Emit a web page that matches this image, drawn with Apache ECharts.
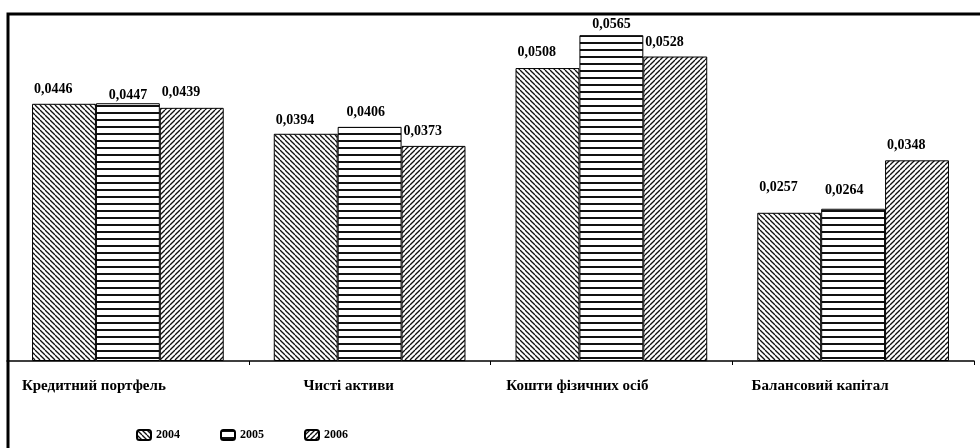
<!DOCTYPE html>
<html>
<head>
<meta charset="utf-8">
<script src="https://cdn.jsdelivr.net/npm/echarts@6/dist/echarts.min.js"></script>
<style>
html,body{margin:0;padding:0;background:#fff;}
#chart{width:980px;height:448px;}
</style>
</head>
<body>
<div id="chart"></div>
<script>
// ---- data ----
const categories = ['Кредитний портфель', 'Чисті активи', 'Кошти фізичних осіб', 'Балансовий капітал'];
const seriesNames = ['2004', '2005', '2006'];
const values2004 = [0.0446, 0.0394, 0.0508, 0.0257];
const values2005 = [0.0447, 0.0406, 0.0565, 0.0264];
const values2006 = [0.0439, 0.0373, 0.0528, 0.0348];

// ---- label placement (style, not data) ----
const catLabelShift = [34, 21, 34, 33];
const labelDy2004 = [-14, -13, -16, -25];
const labelDx2005 = [0, -4, 0, -9];
const labelDy2005 = [-8, -14, -11, -18];
const labelDy2006 = [-15, -15, -14, -15];

function makePattern(kind) {
  const c = document.createElement('canvas');
  const ctx = c.getContext('2d');
  if (kind === 'h') {
    c.width = 4; c.height = 7;
    ctx.fillStyle = '#fff'; ctx.fillRect(0, 0, 4, 7);
    ctx.fillStyle = '#111'; ctx.fillRect(0, 0, 4, 2);
  } else {
    const s = 5;
    c.width = s; c.height = s;
    ctx.fillStyle = '#fff'; ctx.fillRect(0, 0, s, s);
    ctx.strokeStyle = '#111'; ctx.lineWidth = 1.3;
    for (let k = -1; k <= 1; k++) {
      ctx.beginPath();
      if (kind === 'b') { ctx.moveTo(k * s, 0); ctx.lineTo(k * s + s, s); }
      else { ctx.moveTo(k * s, s); ctx.lineTo(k * s + s, 0); }
      ctx.stroke();
    }
  }
  return { image: c, repeat: 'repeat' };
}

const font = 'Liberation Serif, Times New Roman, serif';
const fmt = v => v.toFixed(4).replace('.', ',');

function buildData(vals, dxs, dys) {
  return vals.map((v, j) => ({ value: v, label: { offset: [dxs ? dxs[j] : 0, dys[j]] } }));
}

const labelBase = {
  show: true, color: '#000', fontFamily: font, fontWeight: 'bold', fontSize: 14,
  verticalAlign: 'middle',
  formatter: p => fmt(p.value)
};

const chart = echarts.init(document.getElementById('chart'), null, { renderer: 'canvas' });
chart.setOption({
  backgroundColor: '#fff',
  animation: false,
  grid: { left: 7, right: 6, top: 15, bottom: 87, containLabel: false },
  legend: {
    left: 131, top: 424, itemWidth: 14, itemHeight: 10, itemGap: 40,
    textStyle: { color: '#000', fontFamily: font, fontWeight: 'bold', fontSize: 12 },
    data: seriesNames
  },
  xAxis: {
    type: 'category',
    data: categories.map((c, i) => ({ value: c, textStyle: { padding: [0, 2 * catLabelShift[i], 0, 0] } })),
    axisLine: { lineStyle: { color: '#000', width: 1.5 } },
    axisTick: { show: true, length: 4, lineStyle: { color: '#000' } },
    axisLabel: { color: '#000', fontFamily: font, fontWeight: 'bold', fontSize: 15, margin: 18, interval: 0 }
  },
  yAxis: { type: 'value', min: 0, max: 0.06, show: false, splitLine: { show: false } },
  series: [
    {
      name: seriesNames[0], type: 'bar', barGap: '0%', barCategoryGap: '20.7%',
      itemStyle: { color: makePattern('b'), borderColor: '#000', borderWidth: 1 },
      label: Object.assign({}, labelBase, { position: [2, 0], align: 'left' }),
      data: buildData(values2004, null, labelDy2004)
    },
    {
      name: seriesNames[1], type: 'bar', barGap: '0%', barCategoryGap: '20.7%',
      itemStyle: { color: makePattern('h'), borderColor: '#000', borderWidth: 1 },
      label: Object.assign({}, labelBase, { position: ['50%', 0], align: 'center' }),
      data: buildData(values2005, labelDx2005, labelDy2005)
    },
    {
      name: seriesNames[2], type: 'bar', barGap: '0%', barCategoryGap: '20.7%',
      itemStyle: { color: makePattern('f'), borderColor: '#000', borderWidth: 1 },
      label: Object.assign({}, labelBase, { position: [2, 0], align: 'left' }),
      data: buildData(values2006, null, labelDy2006)
    }
  ],
  graphic: [{
    type: 'rect', silent: true,
    shape: { x: 8, y: 14, width: 1100, height: 600 },
    style: { fill: 'none', stroke: '#000', lineWidth: 3 }, z: 100
  }]
});
</script>
</body>
</html>
